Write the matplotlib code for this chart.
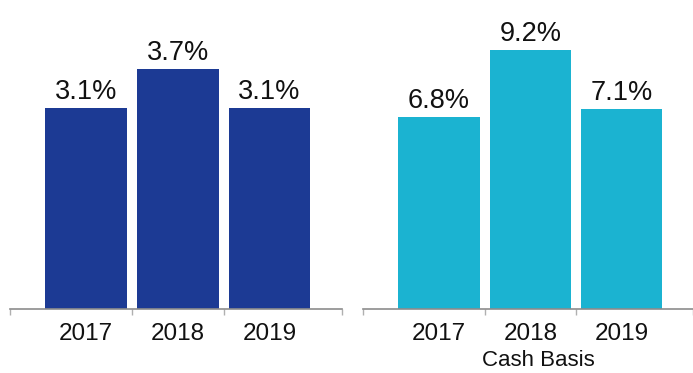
import matplotlib
matplotlib.use("Agg")
import matplotlib.pyplot as plt

plt.rcParams['font.family'] = ['Liberation Sans', 'DejaVu Sans']

years = ["2017", "2018", "2019"]
accrual_rates = [3.1, 3.7, 3.1]
cash_rates = [6.8, 9.2, 7.1]
cash_title = "Cash Basis"

NAVY = "#1c3a94"
CYAN = "#1bb3d1"
AXIS_GREY = "#8c8c8c"

fig = plt.figure(figsize=(6.93, 3.73), dpi=100)

base = 64 / 373
top = 1.0
ax_left = fig.add_axes([10 / 693, base, 332 / 693, top - base])
ax_right = fig.add_axes([363 / 693, base, 330 / 693, top - base])


def draw_panel(ax, values, color, ymax, xlim):
    x = list(range(len(values)))
    bars = ax.bar(x, values, width=0.89, color=color, zorder=2)
    for b, v in zip(bars, values):
        ax.annotate(f"{v:.1f}%", (b.get_x() + b.get_width() / 2, v),
                    xytext=(0, 6.5), textcoords="offset points",
                    ha="center", va="baseline", fontsize=19.5, color="#111111")
    ax.set_ylim(0, ymax)
    ax.set_xlim(*xlim)
    for s in ("top", "right", "left"):
        ax.spines[s].set_visible(False)
    ax.spines["bottom"].set_color(AXIS_GREY)
    ax.spines["bottom"].set_linewidth(1.2)
    ax.set_yticks([])
    ax.set_xticks(x)
    ax.set_xticklabels(years, fontsize=17.5, color="#111111")
    ax.tick_params(axis="x", length=0, pad=10)
    # boundary ticks between and around categories
    bounds = [xlim[0], 0.5, 1.5, xlim[1]]
    ax.set_xticks(bounds, minor=True)
    ax.tick_params(axis="x", which="minor", length=4, width=1.0,
                   color="#b0b0b0", direction="out")


draw_panel(ax_left, accrual_rates, NAVY, 309 / 64.8, (-0.83, 2.79))
draw_panel(ax_right, cash_rates, CYAN, 309 / 28.2, (-0.83, 2.78))

fig.text(538 / 693, 1.5 / 373, cash_title, ha="center", va="bottom",
         fontsize=16, color="#111111")

fig.savefig("out.png", dpi=100)
